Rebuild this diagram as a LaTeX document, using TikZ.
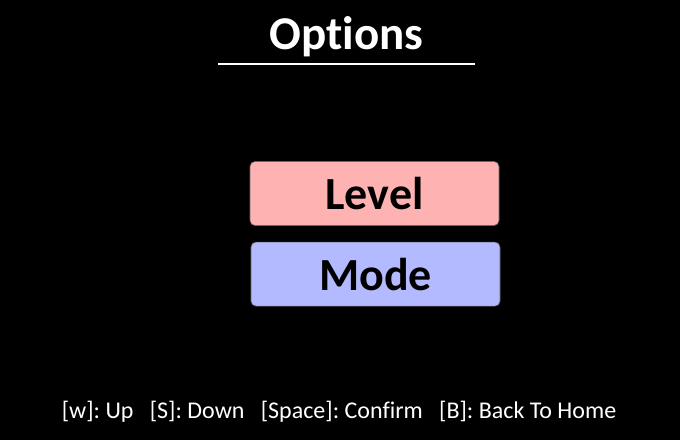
\documentclass[tikz,border=0pt]{standalone}
\usepackage{fontspec}
\setmainfont[Ligatures=NoCommon]{Carlito}
\usetikzlibrary{positioning}
\definecolor{levelpink}{RGB}{255,178,178}
\definecolor{modeblue}{RGB}{180,186,255}
\frenchspacing

\begin{document}
\begin{tikzpicture}[x=1pt,y=-1pt,every node/.style = {align=center, inner sep=0pt},
optbox/.style = {draw=black!60, line width=0.6pt, rounded corners=5pt, minimum width=249pt, minimum height=64pt, font=\fontsize{46}{50}\selectfont\bfseries, text=black}]
\fill[black] (0,0) rectangle (680,440);
\useasboundingbox (0,0) rectangle (680,440);
\node[text=white, font=\fontsize{47}{52}\selectfont\bfseries] (title) at (346.5,37) {Options};
\coordinate (lineL) at (218,64);
\coordinate (lineR) at (475,64);
\draw[white, line width=2.5pt] (lineL) -- (lineR);
\node[optbox, fill=levelpink] (level) at (374.5,193.5) {Level};
\node[optbox, fill=modeblue, below=16pt of level, xshift=1pt] (mode) {Mode};
\node[text=white, font=\fontsize{24}{28}\selectfont] (keys) at (339,412) {[w]: Up\ \ \ [S]: Down\ \ \ [Space]: Confirm\ \ \ [B]: Back To Home};
\end{tikzpicture}
\end{document}
